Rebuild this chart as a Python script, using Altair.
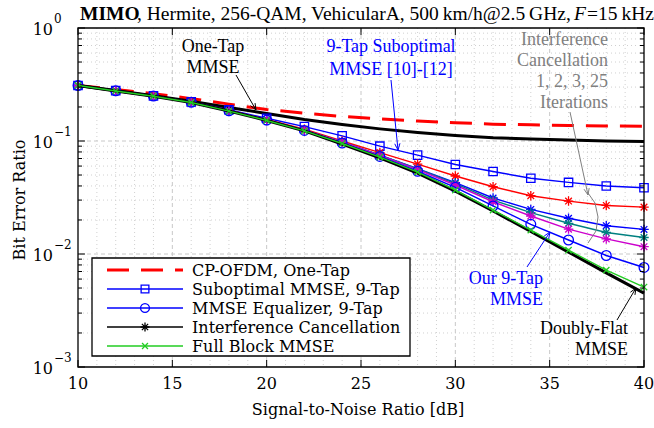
import math
import altair as alt
import pandas as pd

# ---------------- data ----------------
snr = [10, 12, 14, 16, 18, 20, 22, 24, 26, 28, 30, 32, 34, 36, 38, 40]
cp_ofdm_one_tap = [0.31, 0.286, 0.262, 0.237, 0.212, 0.19, 0.176, 0.165, 0.157, 0.15, 0.145, 0.141, 0.139, 0.137, 0.136, 0.135]
one_tap_mmse = [0.31, 0.28, 0.252, 0.225, 0.198, 0.175, 0.155, 0.14, 0.128, 0.119, 0.112, 0.107, 0.104, 0.102, 0.1, 0.099]
suboptimal_9tap = [0.31, 0.279, 0.251, 0.222, 0.189, 0.159, 0.134, 0.111, 0.090, 0.075, 0.062, 0.0537, 0.0468, 0.043, 0.040, 0.0386]
mmse_9tap = [0.31, 0.278, 0.25, 0.22, 0.185, 0.153, 0.124, 0.096, 0.073, 0.054, 0.0389, 0.0266, 0.0183, 0.0133, 0.0097, 0.0076]
ic_1 = [0.31, 0.278, 0.25, 0.221, 0.187, 0.155, 0.127, 0.100, 0.079, 0.0625, 0.049, 0.0394, 0.0328, 0.0294, 0.0269, 0.026]
ic_2 = [0.31, 0.278, 0.25, 0.22, 0.186, 0.154, 0.125, 0.098, 0.075, 0.057, 0.0428, 0.0313, 0.0248, 0.0207, 0.0178, 0.0165]
ic_3 = [0.31, 0.278, 0.25, 0.22, 0.186, 0.154, 0.125, 0.098, 0.075, 0.0565, 0.042, 0.030, 0.0232, 0.0187, 0.0155, 0.014]
ic_25 = [0.31, 0.278, 0.25, 0.22, 0.186, 0.154, 0.125, 0.098, 0.0745, 0.0558, 0.0408, 0.029, 0.0217, 0.0166, 0.0136, 0.0116]
full_block = [0.31, 0.277, 0.249, 0.219, 0.184, 0.152, 0.123, 0.095, 0.072, 0.053, 0.0368, 0.0245, 0.0163, 0.0108, 0.0072, 0.0051]
doubly_flat = [0.31, 0.277, 0.249, 0.219, 0.184, 0.152, 0.123, 0.094, 0.071, 0.052, 0.036, 0.024, 0.0158, 0.0104, 0.0068, 0.0045]

x_major = [10, 15, 20, 25, 30, 35, 40]
x_labels = ["10", "15", "20", "25", "30", "35", "40"]
x_minor = [v for v in range(10, 41) if v % 5 != 0]
y_major = [1.0, 0.1, 0.01, 0.001]
y_exp = ["0", "\u22121", "\u22122", "\u22123"]
y_minor = [m * 10.0 ** k for k in (-3, -2, -1) for m in range(2, 10)]

legend_labels = ["CP-OFDM, One-Tap", "Suboptimal MMSE, 9-Tap", "MMSE Equalizer, 9-Tap",
                 "Interference Cancellation", "Full Block MMSE"]

title_bold = "MIMO"
title_rest = ", Hermite, 256-QAM, VehicularA, 500\u2009km/h@2.5\u2009GHz,"
title_F = "F"
title_end = "=15\u2009kHz"

# ---------------- layout ----------------
W, H = 566, 339
PAD_L, PAD_T = 78, 28
SERIF = "Liberation Serif"
CM = "DejaVu Serif"
TS = 19.5

xs = alt.Scale(domain=[10, 40], nice=False, zero=False)
ys = alt.Scale(type="log", domain=[0.001, 1], nice=False)


def X(f):
    return alt.X(f, type="quantitative", scale=xs, axis=None)


def Y(f):
    return alt.Y(f, type="quantitative", scale=ys, axis=None)


dummy = pd.DataFrame({"d": [0]})
STAR = "M-1,0L1,0M0,-1L0,1M-0.7,-0.7L0.7,0.7M-0.7,0.7L0.7,-0.7"
XMARK = "M-1,-1L1,1M-1,1L1,-1"

layers = []

# grid
layers.append(alt.Chart(pd.DataFrame({"v": x_minor})).mark_rule(color="#d0d0d0", strokeDash=[1, 3], strokeWidth=1).encode(x=X("v")))
layers.append(alt.Chart(pd.DataFrame({"v": y_minor})).mark_rule(color="#d0d0d0", strokeDash=[1, 3], strokeWidth=1).encode(y=Y("v")))
layers.append(alt.Chart(pd.DataFrame({"v": x_major[1:-1]})).mark_rule(color="#c8c8c8", strokeDash=[4, 3], strokeWidth=1).encode(x=X("v")))
layers.append(alt.Chart(pd.DataFrame({"v": y_major[1:-1]})).mark_rule(color="#c8c8c8", strokeDash=[4, 3], strokeWidth=1).encode(y=Y("v")))

# series: (values, color, width, dash, shape, size)
series = [
    (cp_ofdm_one_tap, "#ff0000", 3, [22, 12], None, 0),
    (one_tap_mmse, "#000000", 3, None, None, 0),
    (suboptimal_9tap, "#0000ff", 1.4, None, "square", 70),
    (ic_1, "#ff0000", 1.4, None, STAR, 90),
    (ic_2, "#0000ff", 1.4, None, STAR, 90),
    (ic_3, "#008080", 1.4, None, STAR, 90),
    (ic_25, "#cc00cc", 1.4, None, STAR, 90),
    (mmse_9tap, "#0000ff", 1.4, None, "circle", 95),
    (doubly_flat, "#000000", 3, None, None, 0),
    (full_block, "#22cc22", 1.4, None, XMARK, 40),
]
for vals, col, w, dash, shape, size in series:
    df = pd.DataFrame({"snr": snr, "ber": vals})
    lk = dict(color=col, strokeWidth=w)
    if dash:
        lk["strokeDash"] = dash
    layers.append(alt.Chart(df).mark_line(**lk).encode(x=X("snr"), y=Y("ber")))
    if shape:
        layers.append(alt.Chart(df).mark_point(shape=shape, filled=False, color=col, size=size, strokeWidth=1.3, opacity=1).encode(x=X("snr"), y=Y("ber")))

# ticks
xt = pd.DataFrame({"v": x_major})
layers.append(alt.Chart(xt).mark_rule(color="black", strokeWidth=1).encode(x=X("v"), y=alt.value(H), y2=alt.value(H - 7)))
layers.append(alt.Chart(xt).mark_rule(color="black", strokeWidth=1).encode(x=X("v"), y=alt.value(0), y2=alt.value(7)))
ytm = pd.DataFrame({"v": y_major})
ytn = pd.DataFrame({"v": y_minor})
layers.append(alt.Chart(ytm).mark_rule(color="black", strokeWidth=1).encode(y=Y("v"), x=alt.value(0), x2=alt.value(7)))
layers.append(alt.Chart(ytm).mark_rule(color="black", strokeWidth=1).encode(y=Y("v"), x=alt.value(W), x2=alt.value(W - 7)))
layers.append(alt.Chart(ytn).mark_rule(color="black", strokeWidth=1).encode(y=Y("v"), x=alt.value(0), x2=alt.value(4)))
layers.append(alt.Chart(ytn).mark_rule(color="black", strokeWidth=1).encode(y=Y("v"), x=alt.value(W), x2=alt.value(W - 4)))

# box
layers.append(alt.Chart(dummy).mark_rect(fillOpacity=0, stroke="black", strokeWidth=1.3).encode(
    x=alt.value(0), x2=alt.value(W), y=alt.value(0), y2=alt.value(H)))

# tick labels
layers.append(alt.Chart(pd.DataFrame({"v": x_major, "t": x_labels})).mark_text(
    font=CM, fontSize=16, baseline="middle", align="center").encode(x=X("v"), y=alt.value(H + 17), text="t:N"))
yl = pd.DataFrame({"v": y_major, "e": y_exp})
layers.append(alt.Chart(yl).mark_text(font=CM, fontSize=16, baseline="middle", align="right", dy=2).encode(
    y=Y("v"), x=alt.value(-25), text=alt.value("10")))
layers.append(alt.Chart(yl).mark_text(font=CM, fontSize=12, baseline="middle", align="left", dy=-9).encode(
    y=Y("v"), x=alt.value(-24), text="e:N"))

# axis titles
layers.append(alt.Chart(dummy).mark_text(font=CM, fontSize=16, baseline="middle", align="center").encode(
    x=alt.value(280), y=alt.value(382), text=alt.value("Signal-to-Noise Ratio [dB]")))
layers.append(alt.Chart(dummy).mark_text(font=CM, fontSize=16, baseline="middle", align="center", angle=270).encode(
    x=alt.value(-58), y=alt.value(172), text=alt.value("Bit Error Ratio")))

# title
layers.append(alt.Chart(dummy).mark_text(font=SERIF, fontSize=TS, fontWeight="bold", baseline="alphabetic", align="left").encode(
    x=alt.value(2), y=alt.value(-8), text=alt.value(title_bold)))
layers.append(alt.Chart(dummy).mark_text(font=SERIF, fontSize=TS, baseline="alphabetic", align="left").encode(
    x=alt.value(59), y=alt.value(-8), text=alt.value(title_rest)))
layers.append(alt.Chart(dummy).mark_text(font=SERIF, fontSize=TS, fontStyle="italic", baseline="alphabetic", align="left").encode(
    x=alt.value(496), y=alt.value(-8), text=alt.value(title_F)))
layers.append(alt.Chart(dummy).mark_text(font=SERIF, fontSize=TS, baseline="alphabetic", align="left").encode(
    x=alt.value(509), y=alt.value(-8), text=alt.value(title_end)))

# legend
LX0, LX1, LY0, LY1 = 14, 332, 230, 328
layers.append(alt.Chart(dummy).mark_rect(fill="white", stroke="black", strokeWidth=1.3).encode(
    x=alt.value(LX0), x2=alt.value(LX1), y=alt.value(LY0), y2=alt.value(LY1)))
leg_style = [
    ("#ff0000", 3, [22, 12], None, 0),
    ("#0000ff", 1.4, None, "square", 60),
    ("#0000ff", 1.4, None, "circle", 80),
    ("#000000", 1.4, None, STAR, 80),
    ("#22cc22", 1.4, None, XMARK, 35),
]
row_y = [242, 261, 280, 299, 318]
for (col, w, dash, shape, size), lab, ry in zip(leg_style, legend_labels, row_y):
    rk = dict(color=col, strokeWidth=w)
    if dash:
        rk["strokeDash"] = dash
    layers.append(alt.Chart(dummy).mark_rule(**rk).encode(x=alt.value(29), x2=alt.value(105), y=alt.value(ry)))
    if shape:
        layers.append(alt.Chart(dummy).mark_point(shape=shape, filled=False, color=col, size=size, strokeWidth=1.3, opacity=1).encode(
            x=alt.value(67), y=alt.value(ry)))
    layers.append(alt.Chart(dummy).mark_text(font=CM, fontSize=16, baseline="middle", align="left").encode(
        x=alt.value(114), y=alt.value(ry + 1), text=alt.value(lab)))


# annotations
def text_block(lines, x, y0, color, align, size=18, lh=21):
    out = []
    for i, ln in enumerate(lines):
        out.append(alt.Chart(dummy).mark_text(font=SERIF, fontSize=size, baseline="middle", align=align, color=color).encode(
            x=alt.value(x), y=alt.value(y0 + i * lh), text=alt.value(ln)))
    return out


def seg(x1, y1, x2, y2, color, w=1):
    return alt.Chart(dummy).mark_rule(color=color, strokeWidth=w).encode(
        x=alt.value(x1), y=alt.value(y1), x2=alt.value(x2), y2=alt.value(y2))


def arrow(x1, y1, x2, y2, color, L=7, ang=22):
    out = [seg(x1, y1, x2, y2, color)]
    dx, dy = x2 - x1, y2 - y1
    n = math.hypot(dx, dy)
    ux, uy = dx / n, dy / n
    for s in (-1, 1):
        a = math.radians(ang * s)
        rx = ux * math.cos(a) - uy * math.sin(a)
        ry = ux * math.sin(a) + uy * math.cos(a)
        out.append(seg(x2, y2, x2 - L * rx, y2 - L * ry, color))
    return out


GRAY = "#808080"
layers += text_block(["One-Tap", "MMSE"], 135, 19, "black", "center")
layers += arrow(158, 47, 178, 82, "black")
layers += text_block(["9-Tap Suboptimal", "MMSE [10]-[12]"], 313, 19, "#0000ff", "center", lh=23)
layers += arrow(313, 52, 320, 122, "#0000ff")
layers += text_block(["Interference", "Cancellation", "1, 2, 3, 25", "Iterations"], 530, 12, GRAY, "right")
layers += arrow(492, 84, 510, 167, GRAY)
arc = [(510, 165), (517, 175), (520, 189), (518, 203), (510, 215)]
for (a, b), (c, d) in zip(arc[:-1], arc[1:]):
    layers.append(seg(a, b, c, d, GRAY))
layers += text_block(["Our 9-Tap", "MMSE"], 465, 251, "#0000ff", "right")
layers += arrow(449, 239, 472, 204, "#0000ff")
layers += text_block(["Doubly-Flat", "MMSE"], 550, 301, "black", "right")
layers += arrow(539, 292, 558, 260, "black")

chart = alt.layer(*layers).properties(
    width=W, height=H,
    autosize=alt.AutoSizeParams(type="none"),
    padding={"left": PAD_L, "top": PAD_T, "right": 654 - PAD_L - W, "bottom": 428 - PAD_T - H},
    background="white",
).configure_view(stroke="transparent")

chart.save("out.html", embed_options={"renderer": "svg", "actions": False})
